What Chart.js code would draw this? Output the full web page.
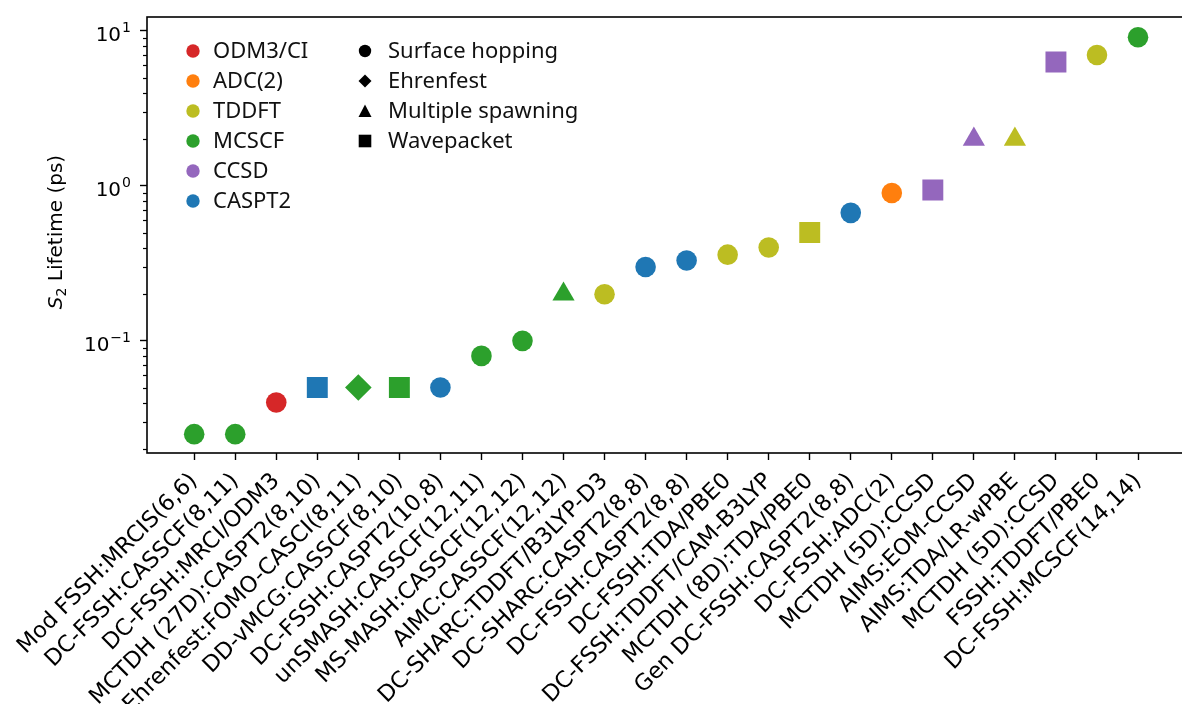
<!DOCTYPE html>
<html>
<head>
<meta charset="utf-8">
<script src="https://cdn.jsdelivr.net/npm/chart.js@4.4.1/dist/chart.umd.min.js"></script>
<style>
  html, body { margin: 0; padding: 0; background: #fff; overflow: hidden; }
  #wrap { width: 1200px; height: 704px; }
</style>
</head>
<body>
<div id="wrap"><canvas id="chart" width="1200" height="704"></canvas></div>
<script>
// Simulation runs, ordered by S2 lifetime
const runLabels = [
  'Mod FSSH:MRCIS(6,6)', 'DC-FSSH:CASSCF(8,11)', 'DC-FSSH:MRCI/ODM3',
  'MCTDH (27D):CASPT2(8,10)', 'Ehrenfest:FOMO-CASCI(8,11)', 'DD-vMCG:CASSCF(8,10)',
  'DC-FSSH:CASPT2(10,8)', 'unSMASH:CASSCF(12,11)', 'MS-MASH:CASSCF(12,12)',
  'AIMC:CASSCF(12,12)', 'DC-SHARC:TDDFT/B3LYP-D3', 'DC-SHARC:CASPT2(8,8)',
  'DC-FSSH:CASPT2(8,8)', 'DC-FSSH:TDA/PBE0', 'DC-FSSH:TDDFT/CAM-B3LYP',
  'MCTDH (8D):TDA/PBE0', 'Gen DC-FSSH:CASPT2(8,8)', 'DC-FSSH:ADC(2)',
  'MCTDH (5D):CCSD', 'AIMS:EOM-CCSD', 'AIMS:TDA/LR-wPBE',
  'MCTDH (5D):CCSD', 'FSSH:TDDFT/PBE0', 'DC-FSSH:MCSCF(14,14)'
];

// S2 lifetime in ps
const lifetimes = [
  0.025, 0.025, 0.04,
  0.05, 0.05, 0.05,
  0.05, 0.08, 0.1,
  0.2, 0.2, 0.3,
  0.33, 0.36, 0.4,
  0.5, 0.67, 0.9,
  0.94, 2.0, 2.0,
  6.3, 7.0, 9.1
];

// Electronic structure method of each run
const runMethods = [
  'MCSCF', 'MCSCF', 'ODM3/CI',
  'CASPT2', 'MCSCF', 'MCSCF',
  'CASPT2', 'MCSCF', 'MCSCF',
  'MCSCF', 'TDDFT', 'CASPT2',
  'CASPT2', 'TDDFT', 'TDDFT',
  'TDDFT', 'CASPT2', 'ADC(2)',
  'CCSD', 'CCSD', 'TDDFT',
  'CCSD', 'TDDFT', 'MCSCF'
];

// Dynamics approach of each run
const runApproaches = [
  'Surface hopping', 'Surface hopping', 'Surface hopping',
  'Wavepacket', 'Ehrenfest', 'Wavepacket',
  'Surface hopping', 'Surface hopping', 'Surface hopping',
  'Multiple spawning', 'Surface hopping', 'Surface hopping',
  'Surface hopping', 'Surface hopping', 'Surface hopping',
  'Wavepacket', 'Surface hopping', 'Surface hopping',
  'Wavepacket', 'Multiple spawning', 'Multiple spawning',
  'Wavepacket', 'Surface hopping', 'Surface hopping'
];

const methodNames  = ['ODM3/CI', 'ADC(2)', 'TDDFT', 'MCSCF', 'CCSD', 'CASPT2'];
const methodColors = ['#d62728', '#ff7f0e', '#bcbd22', '#2ca02c', '#9467bd', '#1f77b4'];
const approachNames  = ['Surface hopping', 'Ehrenfest', 'Multiple spawning', 'Wavepacket'];
const approachStyles = ['circle', 'rectRot', 'triangle', 'rect'];

// log-axis decade ticks: base and exponent
const decadeTicks = [0.1, 1, 10];
const decadeExponents = ['−1', '0', '1'];

// marker radius per point style so the shapes come out at similar visual size
const markerRadius = { circle: 10.3, rectRot: 13.3, triangle: 12.8, rect: 14.8 };

const styleOf = a => approachStyles[approachNames.indexOf(a)];
const colorOf = m => methodColors[methodNames.indexOf(m)];

const LEGEND_FONT = '22px "Noto Sans"';

function isDecade(v) {
  const l = Math.log10(v);
  return Math.abs(l - Math.round(l)) < 1e-9;
}

// Frame, log tick labels, minor ticks, axis title and the two-column legend
const decorations = {
  id: 'decorations',
  afterDraw(chart) {
    const { ctx, chartArea: a, scales } = chart;
    const y = scales.y;
    ctx.save();

    // minor ticks on the log axis
    ctx.strokeStyle = '#000';
    ctx.lineWidth = 1.2;
    y.ticks.forEach(t => {
      if (isDecade(t.value)) return;
      const py = Math.round(y.getPixelForValue(t.value)) + 0.5;
      ctx.beginPath();
      ctx.moveTo(a.left - 4, py);
      ctx.lineTo(a.left, py);
      ctx.stroke();
    });

    // decade labels 10^n with a raised exponent
    ctx.fillStyle = '#000';
    ctx.textBaseline = 'alphabetic';
    ctx.textAlign = 'left';
    decadeTicks.forEach((d, i) => {
      const py = y.getPixelForValue(d);
      ctx.font = '20px "DejaVu Sans"';
      const wb = ctx.measureText('10').width;
      ctx.font = '14px "DejaVu Sans"';
      const we = ctx.measureText(decadeExponents[i]).width;
      const right = a.left - 16;
      const x0 = right - wb - we - 1;
      ctx.font = '20px "DejaVu Sans"';
      ctx.fillText('10', x0, py + 10);
      ctx.font = '14px "DejaVu Sans"';
      ctx.fillText(decadeExponents[i], x0 + wb + 1, py + 1);
    });

    // axes frame
    ctx.lineWidth = 1.6;
    ctx.strokeRect(a.left, a.top, a.right - a.left, a.bottom - a.top);

    // y-axis title: S₂ Lifetime (ps)
    ctx.translate(55, (a.top + a.bottom) / 2 - 3);
    ctx.rotate(-Math.PI / 2);
    ctx.fillStyle = '#000';
    ctx.textBaseline = 'alphabetic';
    const parts = [
      { t: 'S', f: 'italic 20px "DejaVu Sans"', dy: 0 },
      { t: '2', f: '14px "DejaVu Sans"', dy: 4 },
      { t: ' Lifetime (ps)', f: '20px "DejaVu Sans"', dy: 0 }
    ];
    let total = 0;
    parts.forEach(p => { ctx.font = p.f; p.w = ctx.measureText(p.t).width; total += p.w; });
    let x0 = -total / 2;
    parts.forEach(p => { ctx.font = p.f; ctx.fillText(p.t, x0, 7 + p.dy); x0 += p.w; });
    ctx.restore();

    // legend: methods (colour) and approaches (shape)
    ctx.save();
    ctx.font = LEGEND_FONT;
    ctx.textBaseline = 'middle';
    ctx.textAlign = 'left';
    const rowH = 30, y0 = a.top + 34;
    methodNames.forEach((name, i) => {
      const cy = y0 + i * rowH;
      ctx.fillStyle = methodColors[i];
      ctx.beginPath();
      ctx.arc(a.left + 46, cy, 6.7, 0, Math.PI * 2);
      ctx.fill();
      ctx.fillStyle = '#111';
      ctx.fillText(name, a.left + 66, cy + 1);
    });
    approachNames.forEach((name, i) => {
      const cy = y0 + i * rowH;
      const cx = a.left + 218;
      ctx.fillStyle = '#000';
      ctx.beginPath();
      const s = approachStyles[i];
      if (s === 'circle') {
        ctx.arc(cx, cy, 6.2, 0, Math.PI * 2);
      } else if (s === 'rectRot') {
        ctx.moveTo(cx, cy - 6.5); ctx.lineTo(cx + 6.5, cy);
        ctx.lineTo(cx, cy + 6.5); ctx.lineTo(cx - 6.5, cy);
      } else if (s === 'triangle') {
        ctx.moveTo(cx, cy - 6.5); ctx.lineTo(cx + 6.5, cy + 6);
        ctx.lineTo(cx - 6.5, cy + 6);
      } else {
        ctx.rect(cx - 6.3, cy - 6.3, 12.6, 12.6);
      }
      ctx.closePath();
      ctx.fill();
      ctx.fillStyle = '#111';
      ctx.fillText(name, a.left + 241, cy + 1);
    });
    ctx.restore();
  }
};

const n = runLabels.length;
const margin = 0.05 * (n - 1);

new Chart(document.getElementById('chart'), {
  type: 'scatter',
  data: {
    datasets: [{
      data: lifetimes.map((v, i) => ({ x: i, y: v })),
      pointStyle: runApproaches.map(styleOf),
      pointRadius: runApproaches.map(a => markerRadius[styleOf(a)]),
      pointHoverRadius: runApproaches.map(a => markerRadius[styleOf(a)]),
      pointBackgroundColor: runMethods.map(colorOf),
      pointBorderColor: runMethods.map(colorOf),
      pointBorderWidth: 0,
      showLine: false
    }]
  },
  options: {
    responsive: false,
    animation: false,
    devicePixelRatio: 1,
    layout: { padding: { top: 17, right: 6, left: 0, bottom: 0 } },
    plugins: { legend: { display: false }, tooltip: { enabled: false } },
    scales: {
      x: {
        type: 'linear',
        min: -margin,
        max: n - 1 + margin,
        afterBuildTicks: s => { s.ticks = runLabels.map((_, i) => ({ value: i })); },
        afterFit: s => { s.height = 704 - 453; },
        ticks: {
          autoSkip: false,
          minRotation: 45,
          maxRotation: 45,
          padding: 8,
          color: '#000',
          font: { family: 'DejaVu Sans', size: 22.5 },
          callback: v => runLabels[v]
        },
        grid: { drawOnChartArea: false, drawTicks: true, tickLength: 7, tickColor: '#000', tickWidth: 1.4 },
        border: { display: false }
      },
      y: {
        type: 'logarithmic',
        min: 0.0189,
        max: 12.3,
        afterBuildTicks: s => {
          const t = [];
          [0.01, 0.1, 1, 10].forEach(d => {
            for (let k = 1; k <= 9; k++) {
              const v = k * d;
              if (v >= s.min && v <= s.max) t.push({ value: v });
            }
          });
          s.ticks = t;
        },
        afterFit: s => { s.width = 147; },
        ticks: {
          autoSkip: false,
          display: true,
          callback: () => ''
        },
        grid: {
          drawOnChartArea: false,
          drawTicks: true,
          tickLength: 7,
          tickWidth: 1.4,
          tickColor: c => (c.tick && isDecade(c.tick.value)) ? '#000' : 'rgba(0,0,0,0)'
        },
        border: { display: false }
      }
    }
  },
  plugins: [decorations]
});
</script>
</body>
</html>
